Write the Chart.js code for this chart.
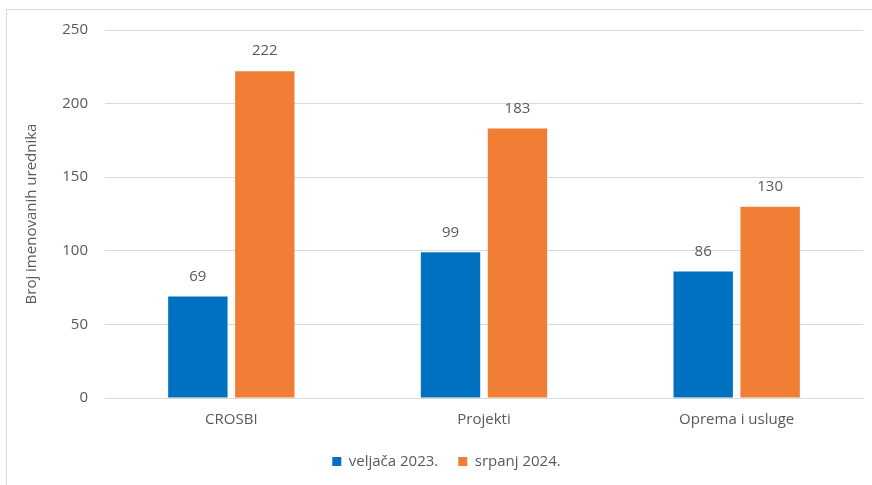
<!DOCTYPE html>
<html>
<head>
<meta charset="utf-8">
<script src="https://cdn.jsdelivr.net/npm/chart.js@4.4.1/dist/chart.umd.min.js"></script>
<style>
    html, body { margin: 0; padding: 0; background: #fff; overflow: hidden; }
    #wrap { position: relative; width: 872px; height: 485px; }
    #frame { position: absolute; left: 6px; top: 9px; width: 900px; height: 500px;
             border-left: 1px solid #d9d9d9; border-top: 1px solid #d9d9d9; }
    canvas { position: absolute; left: 0; top: 0; }
</style>
</head>
<body>
<div id="wrap">
    <div id="frame"></div>
    <canvas id="chart" width="872" height="485"></canvas>
</div>
<script>
const categories = ['CROSBI', 'Projekti', 'Oprema i usluge'];
const seriesNames = ['veljača 2023.', 'srpanj 2024.'];
const feb2023 = [69, 99, 86];
const jul2024 = [222, 183, 130];
const yTicks = [0, 50, 100, 150, 200, 250];

const textColor = '#595959';
const fontFamily = '"Open Sans", "Noto Sans", sans-serif';

const valueLabels = {
    id: 'valueLabels',
    afterDatasetsDraw(chart) {
        const ctx = chart.ctx;
        ctx.save();
        ctx.fillStyle = textColor;
        ctx.font = '15px ' + fontFamily;
        ctx.textAlign = 'center';
        ctx.textBaseline = 'middle';
        chart.data.datasets.forEach((ds, i) => {
            chart.getDatasetMeta(i).data.forEach((bar, j) => {
                ctx.fillText(ds.data[j], bar.x, bar.y - 20);
            });
        });
        ctx.restore();
    }
};

// legend in the original sits a little right of the canvas centre
const legendShift = {
    id: 'legendShift',
    afterUpdate(chart) {
        chart.legend.left += 15;
        chart.legend.right += 15;
    }
};

new Chart(document.getElementById('chart').getContext('2d'), {
    type: 'bar',
    data: {
        labels: categories,
        datasets: [{
            label: seriesNames[0],
            data: feb2023,
            backgroundColor: '#0070C0',
            categoryPercentage: 0.53,
            barPercentage: 0.887
        }, {
            label: seriesNames[1],
            data: jul2024,
            backgroundColor: '#F07F35',
            categoryPercentage: 0.53,
            barPercentage: 0.887
        }]
    },
    options: {
        responsive: false,
        animation: false,
        layout: { padding: { top: 30, right: 9, bottom: 6, left: 0 } },
        scales: {
            x: {
                grid: { display: false, drawTicks: false },
                border: { display: true, color: '#d9d9d9' },
                ticks: { color: textColor, font: { family: fontFamily, size: 15 }, padding: 13 },
                afterFit(scale) { scale.height = 36; }
            },
            y: {
                min: 0,
                max: 250,
                afterBuildTicks(scale) { scale.ticks = yTicks.map(v => ({ value: v })); },
                grid: { color: '#d9d9d9', drawTicks: false },
                border: { display: false },
                ticks: { color: textColor, font: { family: fontFamily, size: 15 }, padding: 17 },
                title: {
                    display: true,
                    text: 'Broj imenovanih urednika',
                    color: textColor,
                    font: { family: fontFamily, size: 15 },
                    padding: { top: 23, bottom: 0 }
                },
                afterFit(scale) { scale.width = 105; }
            }
        },
        plugins: {
            legend: {
                position: 'bottom',
                labels: {
                    color: textColor,
                    font: { family: fontFamily, size: 15 },
                    boxWidth: 9,
                    boxHeight: 9,
                    padding: 20
                }
            },
            tooltip: { enabled: false }
        }
    },
    plugins: [valueLabels, legendShift]
});
</script>
</body>
</html>
